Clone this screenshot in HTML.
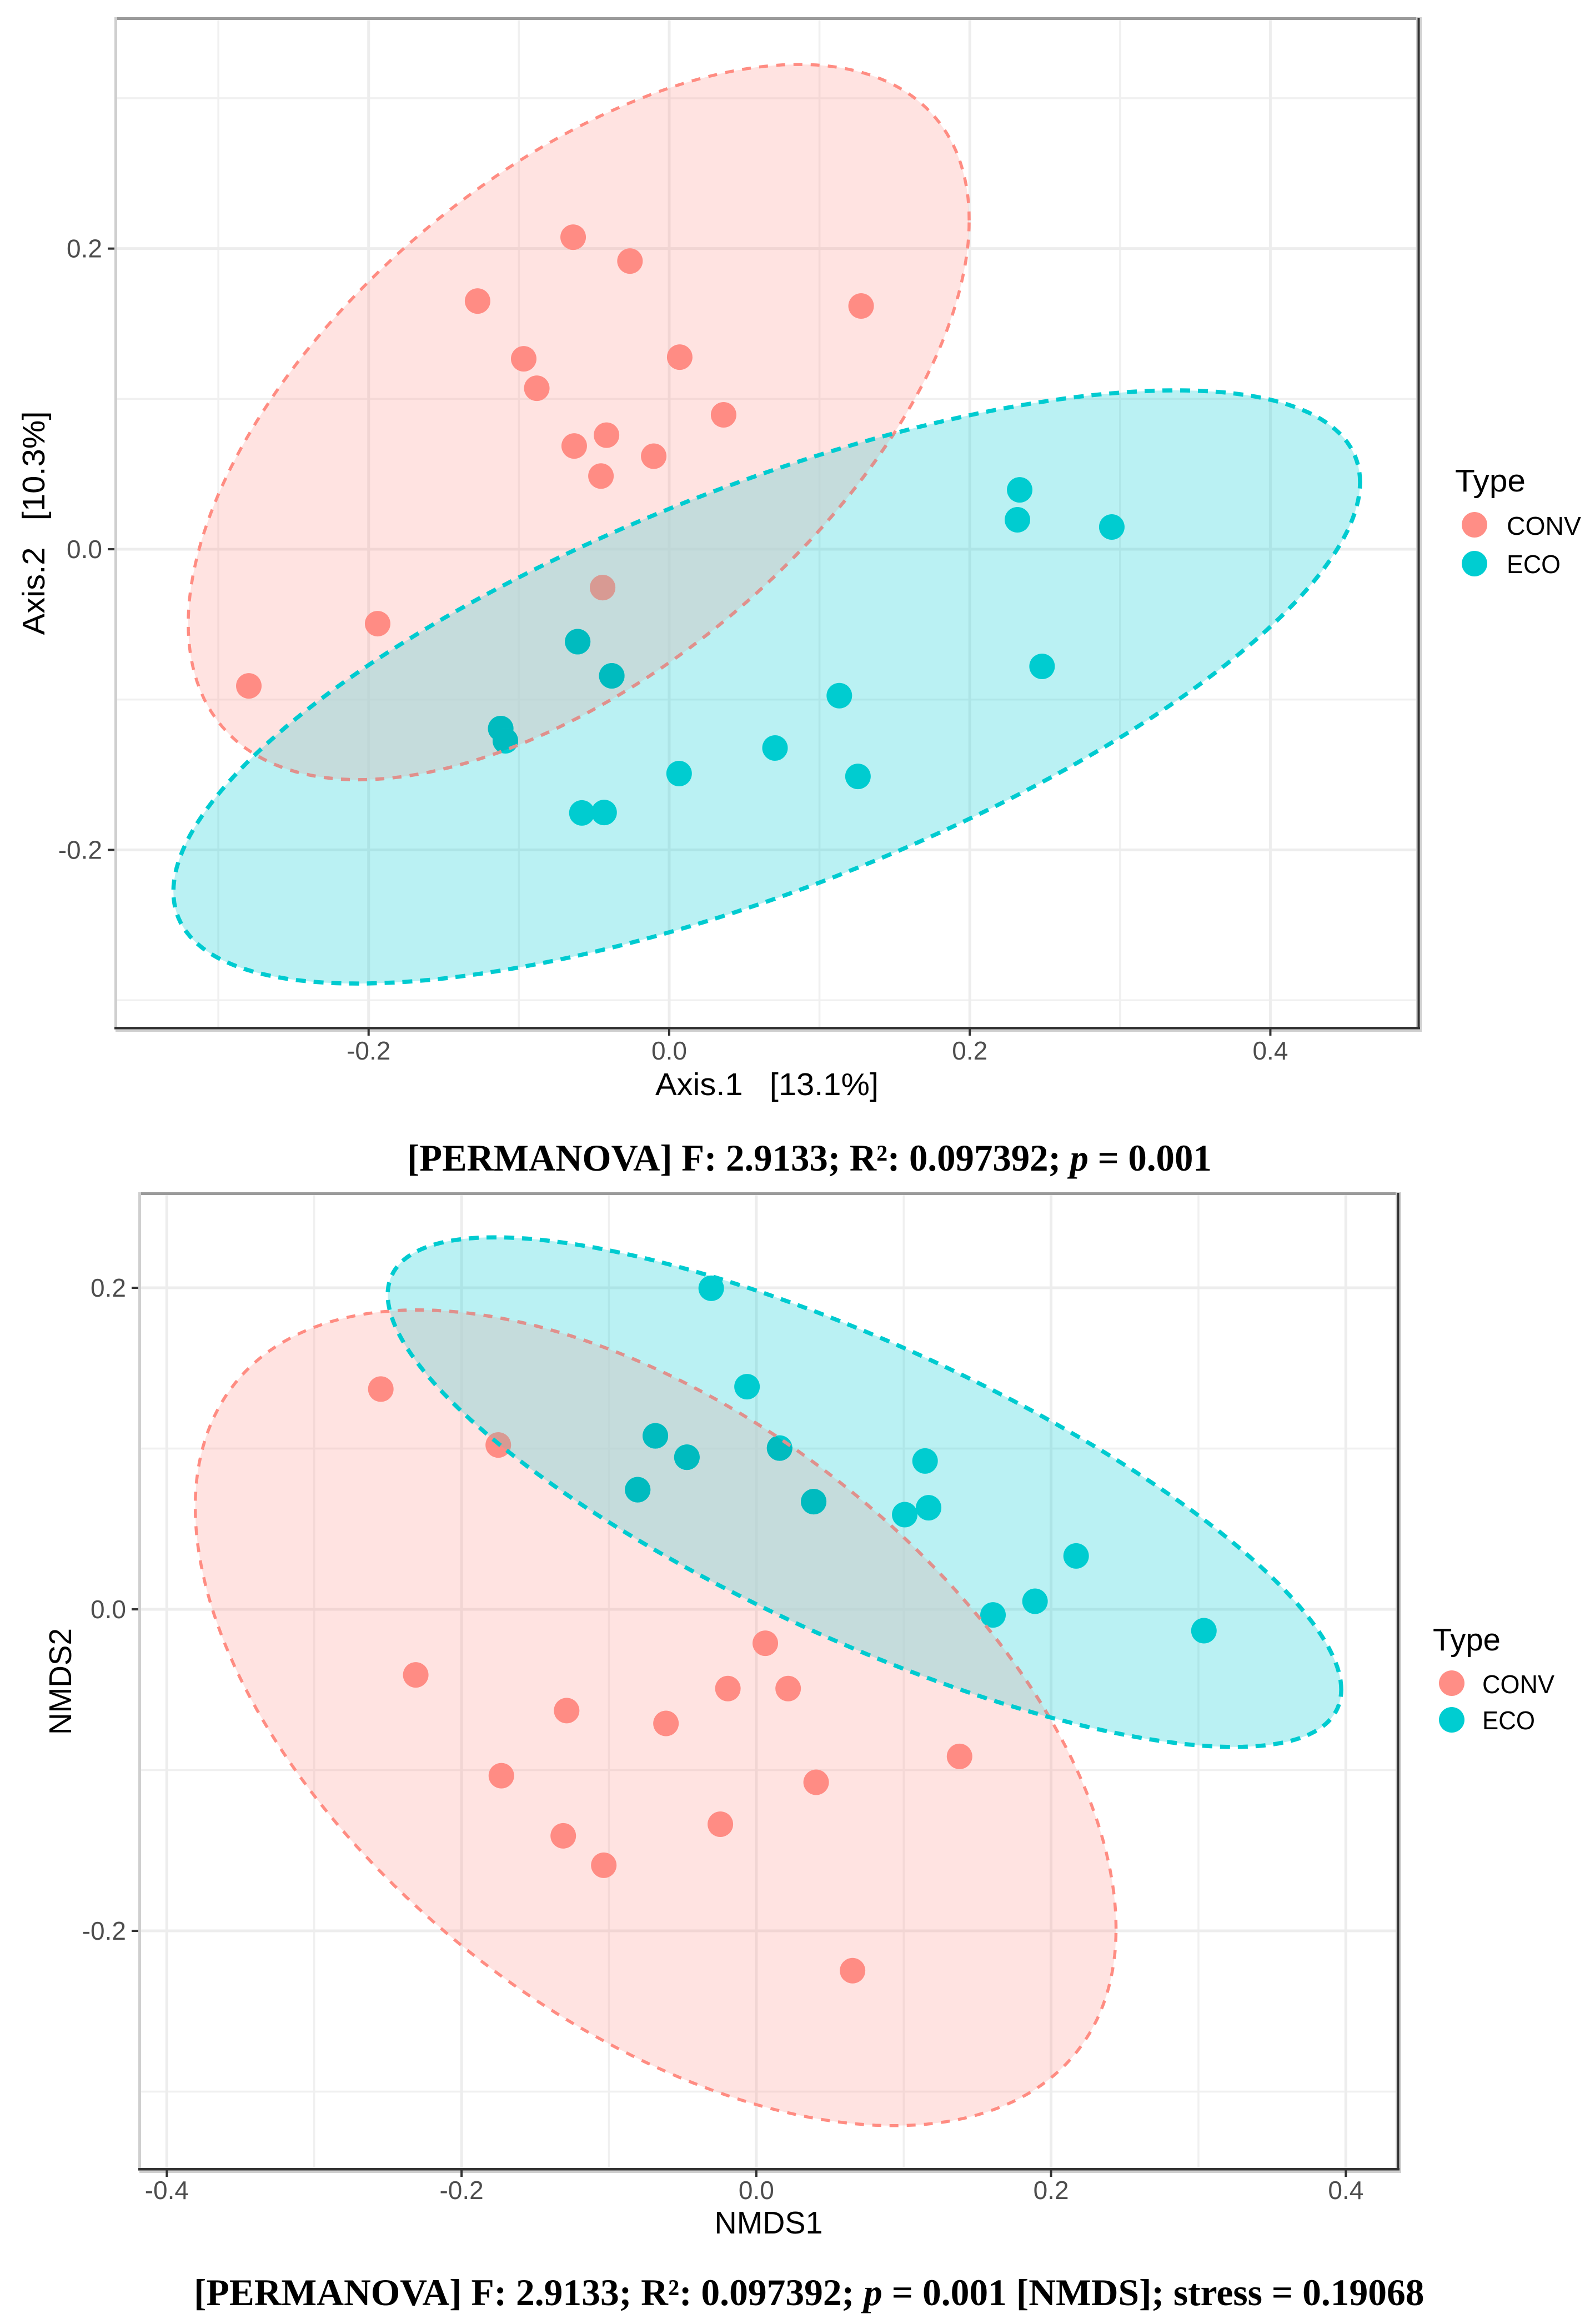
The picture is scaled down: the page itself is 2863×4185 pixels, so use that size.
<!DOCTYPE html>
<html lang="en">
<head>
<meta charset="utf-8">
<title>PCoA and NMDS ordination of CONV and ECO</title>
<style>
html,body{margin:0;padding:0;background:#fff;}
svg{display:block;}
text{font-family:"Liberation Sans",sans-serif;}
.cap{font-family:"Liberation Serif",serif;font-weight:bold;font-size:68px;fill:#000;}
.ttl{font-size:57px;fill:#000;}
.leg{font-size:46px;fill:#000;}
</style>
</head>
<body>
<svg id="fig" xmlns="http://www.w3.org/2000/svg" width="2863" height="4185" viewBox="0 0 2863 4185">
  <rect width="2863" height="4185" fill="#fff"/>
  <g id="chart-a"></g>
  <g id="chart-b"></g>

  <text class="ttl" data-fit="402" data-x="1381" data-y="1972" data-anchor="middle" xml:space="preserve">Axis.1   [13.1%]</text>
  <text class="ttl" data-fit="403" data-x="80" data-y="942" data-anchor="middle" data-rot="1" xml:space="preserve">Axis.2   [10.3%]</text>
  <g>
    <text class="ttl" data-fit="127" data-x="2620" data-y="885">Type</text>
    <circle cx="2655" cy="945" r="23" fill="#FF8E86"/>
    <text class="leg" data-fit="134" data-x="2713" data-y="963">CONV</text>
    <circle cx="2655" cy="1015" r="23" fill="#00CDD1"/>
    <text class="leg" data-fit="97" data-x="2713" data-y="1032">ECO</text>
  </g>
  <text class="cap" data-fit="1449" data-x="733" data-y="2108">[PERMANOVA] F: 2.9133; R²: 0.097392; <tspan font-style="italic">p</tspan> = 0.001</text>

  <text class="ttl" data-fit="195" data-x="1384" data-y="4022" data-anchor="middle">NMDS1</text>
  <text class="ttl" data-fit="192" data-x="128" data-y="3028" data-anchor="middle" data-rot="1">NMDS2</text>
  <g>
    <text class="ttl" data-fit="122" data-x="2580" data-y="2972">Type</text>
    <circle cx="2614" cy="3031" r="23" fill="#FF8E86"/>
    <text class="leg" data-fit="130" data-x="2669" data-y="3049">CONV</text>
    <circle cx="2614" cy="3097" r="23" fill="#00CDD1"/>
    <text class="leg" data-fit="95" data-x="2669" data-y="3114">ECO</text>
  </g>
  <text class="cap" data-fit="2216" data-x="349" data-y="4151">[PERMANOVA] F: 2.9133; R²: 0.097392; <tspan font-style="italic">p</tspan> = 0.001 [NMDS]; stress = 0.19068</text>
</svg>

<script>
// ---- PCoA chart data ----
var pcoaConvX = [-0.0639,-0.0261,-0.1275,-0.0968,0.0070,-0.0881,0.0362,-0.0417,-0.0632,-0.0103,-0.0454,-0.0443,0.1277,-0.1940,-0.2797];
var pcoaConvY = [0.2076,0.1917,0.1651,0.1267,0.1278,0.1071,0.0894,0.0759,0.0687,0.0619,0.0487,-0.0255,0.1618,-0.0495,-0.0909];
var pcoaEcoX = [-0.0609,-0.0382,-0.1121,-0.1090,0.0704,0.0066,-0.0581,-0.0433,0.2332,0.2317,0.2945,0.2481,0.1132,0.1256];
var pcoaEcoY = [-0.0615,-0.0842,-0.1193,-0.1274,-0.1322,-0.1492,-0.1754,-0.1751,0.0395,0.0196,0.0148,-0.0779,-0.0974,-0.1511];
// ellipse parameters: centre x, centre y, half-width, half-height, correlation
var pcoaConvEllipse = [-0.0602,0.0846,0.2598,0.2379,0.564];
var pcoaEcoEllipse = [0.0649,-0.0916,0.3948,0.1973,0.69];
var pcoaXTicks = [-0.2,0,0.2,0.4];
var pcoaXTickLabels = ["-0.2","0.0","0.2","0.4"];
var pcoaYTicks = [-0.2,0,0.2];
var pcoaYTickLabels = ["-0.2","0.0","0.2"];
var pcoaXMinor = [-0.3,-0.1,0.1,0.3];
var pcoaYMinor = [-0.3,-0.1,0.1,0.3];

// ---- NMDS chart data ----
var nmdsConvX = [-0.2548,-0.1751,0.0061,-0.0193,0.0216,-0.2311,-0.1287,-0.0613,-0.1730,-0.1310,-0.1035,-0.0244,0.0406,0.1379,0.0653];
var nmdsConvY = [0.1370,0.1022,-0.0211,-0.0493,-0.0493,-0.0408,-0.0630,-0.0710,-0.1035,-0.1409,-0.1592,-0.1337,-0.1076,-0.0915,-0.2248];
var nmdsEcoX = [-0.0306,-0.0063,-0.0685,-0.0471,0.0158,-0.0805,0.0389,0.1145,0.1169,0.1007,0.2170,0.1891,0.1606,0.3037];
var nmdsEcoY = [0.1997,0.1385,0.1079,0.0946,0.1003,0.0744,0.0670,0.0923,0.0632,0.0589,0.0332,0.0050,-0.0035,-0.0133];
var nmdsConvEllipse = [-0.0683,-0.0675,0.3124,0.2537,-0.517];
var nmdsEcoEllipse = [0.0734,0.0729,0.3235,0.1585,-0.775];
var nmdsXTicks = [-0.4,-0.2,0,0.2,0.4];
var nmdsXTickLabels = ["-0.4","-0.2","0.0","0.2","0.4"];
var nmdsYTicks = [-0.2,0,0.2];
var nmdsYTickLabels = ["-0.2","0.0","0.2"];
var nmdsXMinor = [-0.3,-0.1,0.1,0.3];
var nmdsYMinor = [-0.3,-0.1,0.1];

var SVGNS = "http://www.w3.org/2000/svg";

function make(tag, attrs, parent) {
  var el = document.createElementNS(SVGNS, tag);
  for (var k in attrs) { el.setAttribute(k, attrs[k]); }
  parent.appendChild(el);
  return el;
}

function ellipsePath(e, sx, sy) {
  var d = "";
  var r = e[4];
  var q = Math.sqrt(1 - r * r);
  for (var i = 0; i < 240; i++) {
    var t = i / 240 * Math.PI * 2;
    var px = sx(e[0] + e[2] * Math.cos(t));
    var py = sy(e[1] + e[3] * (r * Math.cos(t) + q * Math.sin(t)));
    d += (i ? "L" : "M") + px.toFixed(1) + " " + py.toFixed(1);
  }
  return d + "Z";
}

function drawChart(root, c) {
  var sx = function (v) { return c.left + (v - c.xMin) / (c.xMax - c.xMin) * (c.right - c.left); };
  var sy = function (v) { return c.bottom - (v - c.yMin) / (c.yMax - c.yMin) * (c.bottom - c.top); };
  var convPath = ellipsePath(c.convEllipse, sx, sy);
  var ecoPath = ellipsePath(c.ecoEllipse, sx, sy);

  var defs = make("defs", {}, root);
  var clipConv = make("clipPath", { id: c.id + "-clip-conv" }, defs);
  make("path", { d: convPath }, clipConv);
  var clipEco = make("clipPath", { id: c.id + "-clip-eco" }, defs);
  make("path", { d: ecoPath }, clipEco);

  var el, i;
  // minor grid
  for (i = 0; i < c.xMinor.length; i++) {
    el = make("line", { x1: sx(c.xMinor[i]), x2: sx(c.xMinor[i]), y1: c.top, y2: c.bottom, stroke: "#F0F0F0", "stroke-width": 3.5 }, root);
    
    
  }
  for (i = 0; i < c.yMinor.length; i++) {
    el = make("line", { x1: c.left, x2: c.right, y1: sy(c.yMinor[i]), y2: sy(c.yMinor[i]), stroke: "#F0F0F0", "stroke-width": 3.5 }, root);
    
    
  }
  // major grid
  for (i = 0; i < c.xTicks.length; i++) {
    el = make("line", { x1: sx(c.xTicks[i]), x2: sx(c.xTicks[i]), y1: c.top, y2: c.bottom, stroke: "#EDEDED", "stroke-width": 5 }, root);
    
    
  }
  for (i = 0; i < c.yTicks.length; i++) {
    el = make("line", { x1: c.left, x2: c.right, y1: sy(c.yTicks[i]), y2: sy(c.yTicks[i]), stroke: "#EDEDED", "stroke-width": 5 }, root);
    
    
  }

  // ellipse fills
  el = make("path", { d: convPath, fill: "#FF8E86", "fill-opacity": 0.25 }, root);
  
  
  el = make("path", { d: ecoPath, fill: "#00CDD1", "fill-opacity": 0.27 }, root);
  
  
  el = make("path", { d: convPath, fill: "#D0DBDB", "fill-opacity": 0.5, "clip-path": "url(#" + c.id + "-clip-eco)" }, root);
  
  

  // points: base colour, then a duller copy where the other ellipse covers it
  for (i = 0; i < c.convX.length; i++) {
    el = make("circle", { cx: sx(c.convX[i]), cy: sy(c.convY[i]), r: 23, fill: "#FF8C84" }, root);
    
    
    el = make("circle", { cx: sx(c.convX[i]), cy: sy(c.convY[i]), r: 23, fill: "#D89A93", "clip-path": "url(#" + c.id + "-clip-eco)" }, root);
    
    
  }
  for (i = 0; i < c.ecoX.length; i++) {
    el = make("circle", { cx: sx(c.ecoX[i]), cy: sy(c.ecoY[i]), r: 23, fill: "#00CCD0" }, root);
    
    
    el = make("circle", { cx: sx(c.ecoX[i]), cy: sy(c.ecoY[i]), r: 23, fill: "#00BBBF", "clip-path": "url(#" + c.id + "-clip-conv)" }, root);
    
    
  }

  // ellipse outlines
  el = make("path", { d: convPath, fill: "none", stroke: "#FF8C82", "stroke-width": 5.5, "stroke-dasharray": "16 15" }, root);
  
  
  el = make("path", { d: convPath, fill: "none", stroke: "#E0908C", "stroke-width": 6, "stroke-dasharray": "16 15", "clip-path": "url(#" + c.id + "-clip-eco)" }, root);
  
  
  el = make("path", { d: ecoPath, fill: "none", stroke: "#00CBD0", "stroke-width": 7.5, "stroke-dasharray": "18 14" }, root);
  
  

  // panel border
  el = make("rect", { x: c.left, y: c.top - 3, width: c.right - c.left + 3, height: 5, fill: "#9A9A9A" }, root);
  
  
  el = make("rect", { x: c.left - 2, y: c.top - 3, width: 5, height: c.bottom - c.top + 6, fill: "#CFCFCF" }, root);
  
  
  el = make("rect", { x: c.right - 4, y: c.top - 3, width: 10, height: c.bottom - c.top + 9, fill: "#CFCFCF" }, root);
  
  
  el = make("rect", { x: c.right - 1.5, y: c.top - 2, width: 4, height: c.bottom - c.top + 4, fill: "#333333" }, root);
  
  
  el = make("rect", { x: c.left, y: c.bottom - 2, width: c.right - c.left + 6, height: 9, fill: "#CFCFCF" }, root);
  
  
  el = make("rect", { x: c.left - 2, y: c.bottom - 2, width: c.right - c.left + 5, height: 4.5, fill: "#333333" }, root);
  
  

  // ticks and labels
  for (i = 0; i < c.xTicks.length; i++) {
    el = make("line", { x1: sx(c.xTicks[i]), x2: sx(c.xTicks[i]), y1: c.bottom + 2, y2: c.bottom + 14, stroke: "#333333", "stroke-width": 4 }, root);
    
    
    el = make("text", { x: sx(c.xTicks[i]), y: c.xLabelY, "text-anchor": "middle", "font-size": 46, fill: "#4D4D4D" }, root);
    el.textContent = c.xLabels[i];
    
    
  }
  for (i = 0; i < c.yTicks.length; i++) {
    el = make("line", { x1: c.left - 14, x2: c.left - 2, y1: sy(c.yTicks[i]), y2: sy(c.yTicks[i]), stroke: "#333333", "stroke-width": 4 }, root);
    
    
    el = make("text", { x: c.left - 24, y: sy(c.yTicks[i]) + 16, "text-anchor": "end", "font-size": 46, fill: "#4D4D4D" }, root);
    el.textContent = c.yLabels[i];
    
    
  }
}

drawChart(document.getElementById("chart-a"), {
  id: "a", left: 208, right: 2554, top: 34, bottom: 1851,
  xMin: -0.3684, xMax: 0.4985, yMin: -0.3184, yMax: 0.3528,
  convX: pcoaConvX, convY: pcoaConvY, ecoX: pcoaEcoX, ecoY: pcoaEcoY,
  convEllipse: pcoaConvEllipse, ecoEllipse: pcoaEcoEllipse,
  xTicks: pcoaXTicks, xLabels: pcoaXTickLabels, yTicks: pcoaYTicks, yLabels: pcoaYTickLabels,
  xMinor: pcoaXMinor, yMinor: pcoaYMinor, xLabelY: 1908
});
drawChart(document.getElementById("chart-b"), {
  id: "b", left: 251, right: 2517, top: 2150, bottom: 3906,
  xMin: -0.4186, xMax: 0.4353, yMin: -0.3482, yMax: 0.2584,
  convX: nmdsConvX, convY: nmdsConvY, ecoX: nmdsEcoX, ecoY: nmdsEcoY,
  convEllipse: nmdsConvEllipse, ecoEllipse: nmdsEcoEllipse,
  xTicks: nmdsXTicks, xLabels: nmdsXTickLabels, yTicks: nmdsYTicks, yLabels: nmdsYTickLabels,
  xMinor: nmdsXMinor, yMinor: nmdsYMinor, xLabelY: 3960
});

// Fit static text to the measured widths of the reference
Array.prototype.forEach.call(document.querySelectorAll("text[data-fit]"), function (t) {
  var w = parseFloat(t.getAttribute("data-fit"));
  var x = parseFloat(t.getAttribute("data-x"));
  var y = parseFloat(t.getAttribute("data-y"));
  var len = t.getComputedTextLength();
  var s = w / len;
  var tr = "translate(" + x + " " + y + ")";
  if (t.getAttribute("data-rot")) { tr += " rotate(-90)"; }
  tr += " scale(" + s.toFixed(4) + " 1)";
  if (t.getAttribute("data-anchor") === "middle") { t.setAttribute("text-anchor", "middle"); }
  t.setAttribute("transform", tr);
});
</script>
</body>
</html>
